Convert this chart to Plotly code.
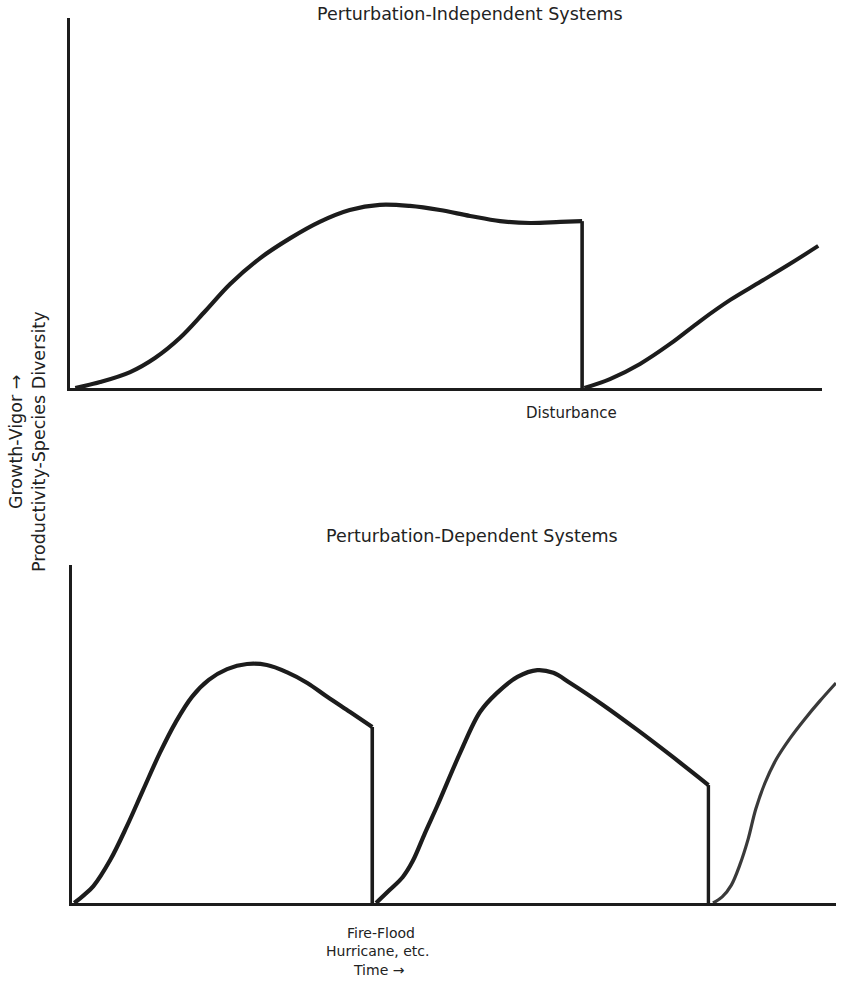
import plotly.graph_objects as go

# ---- Perturbation-independent system: one long growth phase, then a disturbance
indep_time = [0.7, 4.0, 8.0, 11.3, 14.6, 18.0, 21.3, 25.3, 29.3, 33.2, 37.2,
              41.2, 45.2, 49.2, 53.2, 57.2, 61.2, 65.2, 68.1]
indep_value = [0, 1.6, 4.3, 8.1, 13.5, 20.8, 28.1, 35.1, 40.5, 44.9, 48.1,
               49.5, 49.2, 48.1, 46.5, 45.1, 44.6, 44.9, 45.1]
indep_regrowth_time = [68.4, 71.8, 75.8, 79.8, 83.8, 87.8, 91.8, 95.7, 99.5]
indep_regrowth_value = [0, 2.4, 6.5, 11.9, 18.1, 23.8, 28.7, 33.5, 38.4]

# ---- Perturbation-dependent system: repeated growth cycles reset by fire/flood
dep_cycle1_time = [0.3, 1.6, 2.8, 5.0, 7.2, 9.3, 11.5, 13.6, 15.7, 17.9, 20.3,
                   22.9, 25.5, 28.1, 30.8, 33.4, 36.4, 39.3]
dep_cycle1_value = [0, 2.4, 5.0, 12.7, 22.8, 33.4, 44.4, 53.6, 61.0, 66.0, 69.2,
                    70.7, 70.4, 68.3, 65.1, 61.0, 56.5, 52.1]
dep_cycle2_time = [39.8, 41.6, 43.3, 44.6, 46.2, 47.8, 50.8, 53.4, 55.6, 58.3,
                   60.9, 63.0, 65.2, 69.5, 74.0, 78.3, 83.3]
dep_cycle2_value = [0, 3.9, 7.7, 12.4, 20.7, 28.7, 44.4, 56.5, 62.1, 66.9,
                    68.9, 68.1, 65.1, 58.6, 51.2, 43.8, 34.9]
dep_cycle3_time = [83.9, 85.1, 86.3, 87.4, 88.5, 89.5, 90.7, 92.2, 94.0, 95.9,
                   97.9, 100.0]
dep_cycle3_value = [0, 1.8, 5.3, 11.2, 18.9, 27.8, 35.5, 42.6, 48.8, 54.4,
                    59.8, 65.1]

INK = "#1c1c1c"
FONT = "DejaVu Sans"

fig = go.Figure()


def curve(x, y, xa, ya, shape="spline", width=4.2, color=INK):
    fig.add_trace(go.Scatter(
        x=x, y=y, xaxis=xa, yaxis=ya, mode="lines",
        line=dict(color=color, width=width, shape=shape, smoothing=1.0),
        hoverinfo="skip", showlegend=False, cliponaxis=False,
    ))


def drop(t, v, xa, ya, width=3.6):
    # the disturbance: value collapses straight back to zero
    curve([t, t], [v, 0], xa, ya, shape="linear", width=width)


# top panel
curve(indep_time, indep_value, "x", "y")
drop(indep_time[-1], indep_value[-1], "x", "y")
curve(indep_regrowth_time, indep_regrowth_value, "x", "y", width=4)

# bottom panel
curve(dep_cycle1_time, dep_cycle1_value, "x2", "y2")
drop(dep_cycle1_time[-1], dep_cycle1_value[-1], "x2", "y2")
curve(dep_cycle2_time, dep_cycle2_value, "x2", "y2")
drop(dep_cycle2_time[-1], dep_cycle2_value[-1], "x2", "y2", width=3.4)
curve(dep_cycle3_time, dep_cycle3_value, "x2", "y2", width=3.2, color="#3a3a3a")

W, H = 841, 990


def px_x(p):
    return p / W


def px_y(p):
    return 1 - p / H


axis_common = dict(showgrid=False, zeroline=False, showticklabels=False,
                   ticks="", showline=True, linecolor=INK, linewidth=3.2,
                   fixedrange=True)

fig.update_layout(
    width=W, height=H,
    margin=dict(l=0, r=0, t=0, b=0),
    paper_bgcolor="white", plot_bgcolor="white",
    xaxis=dict(domain=[px_x(70), px_x(822)], range=[0, 100], anchor="y",
               **axis_common),
    yaxis=dict(domain=[px_y(388), px_y(18)], range=[0, 100], anchor="x",
               **axis_common),
    xaxis2=dict(domain=[px_x(72), px_x(836)], range=[0, 100], anchor="y2",
                **axis_common),
    yaxis2=dict(domain=[px_y(903), px_y(565)], range=[0, 100], anchor="x2",
                **axis_common),
)


def label(text, x, y, size, angle=0):
    fig.add_annotation(
        text=text, x=px_x(x), y=px_y(y), xref="paper", yref="paper",
        showarrow=False, textangle=angle, xanchor="center", yanchor="middle",
        font=dict(family=FONT, size=size, color="#222222"),
    )


label("Perturbation-Independent Systems", 470, 14, 17.5)
label("Disturbance", 571, 413, 15)
label("Perturbation-Dependent Systems", 472, 536, 17.5)
label("Fire-Flood", 381, 933, 14)
label("Hurricane, etc.", 377, 951, 14)
label("Time \u2192", 379, 970, 14)
label("Growth-Vigor \u2192", 16, 442, 17.5, angle=-90)
label("Productivity-Species Diversity", 39, 442, 17.5, angle=-90)

fig.write_html("out.html")
